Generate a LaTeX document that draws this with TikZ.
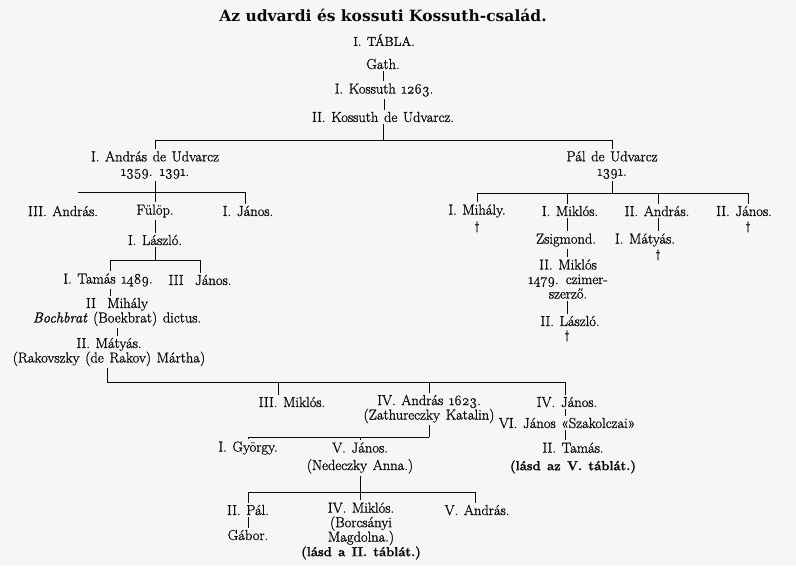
\documentclass[tikz,border=0pt]{standalone}
\usepackage{fontspec}
\setmainfont{Latin Modern Roman}[Numbers=OldStyle, WordSpace=1.3, FakeBold=1.2]
\newfontfamily\clar{DejaVu Serif}
\definecolor{paper}{RGB}{246,246,246}
\definecolor{ink}{RGB}{10,10,10}
\newcommand{\lasd}[1]{{\bfseries\fontsize{13}{13}\selectfont #1}}
\begin{document}
\begin{tikzpicture}[x=1pt,y=-1pt,
  p/.style={inner sep=2pt, align=center, text=ink, font=\fontsize{14.5}{14.5}\selectfont},
  dg/.style={inner sep=0pt, text=ink, font=\fontsize{12}{12}\selectfont},
  ln/.style={line width=0.7pt, draw=ink}]
\fill[paper] (0,0) rectangle (796,566);
\useasboundingbox (0,0) rectangle (796,566);

% header
\node[p, font=\clar\bfseries\fontsize{15.5}{16}\selectfont] (title) at (383,15) {Az udvardi és kossuti Kossuth-család.};
\node[p, font=\fontsize{13}{13}\selectfont] (tabla) at (384,40) {I. TÁBLA.};
\node[p] (gath) at (383,64) {Gath.};
\node[p] (kos1) at (384,90) {I. Kossuth 1263.};
\node[p] (kos2) at (383,117) {II. Kossuth de Udvarcz.};

% generation: András / Pál
\node[p] (andras1) at (155,165) {I. András de Udvarcz\\1359. 1391.};
\node[p] (pal) at (612,165) {Pál de Udvarcz\\1391.};

% left children
\node[p] (andras3) at (63,211) {III. András.};
\node[p] (fulop) at (155,211) {Fülöp.};
\node[p] (janos1) at (248,211) {I. János.};
\node[p] (laszlo1) at (155,240) {I. László.};
\node[p] (tamas1) at (108,280) {I. Tamás 1489.};
\node[p] (janos3) at (200,280) {III~ János.};
\node[p] (mihaly2) at (117,312) {II~ Mihály\\\textit{Bochbrat} (Boekbrat) dictus.};
\node[p] (matyas2) at (109,352) {II. Mátyás.\\(Rakovszky (de Rakov) Mártha)};

% right children
\node[p] (mihaly1) at (477,211) {I. Mihály.};
\node[p] (miklos1) at (570,211) {I. Miklós.};
\node[p] (andras2) at (657,211) {II. András.};
\node[p] (janos2) at (744,211) {II. János.};
\node[dg] (dag1) at (477,227) {\textdagger};
\node[dg] (dag2) at (748,227) {\textdagger};
\node[p] (zsig) at (566,240) {Zsigmond.};
\node[p] (matyas1) at (645,240) {I. Mátyás.};
\node[dg] (dag3) at (658,255) {\textdagger};
\node[p] (miklos2) at (568,279) {II. Miklós\\1479. czimer-\\szerző.};
\node[p] (laszlo2) at (570,321) {II. László.};
\node[dg] (dag4) at (567,336) {\textdagger};

% lower generations
\node[p] (miklos3) at (292,402) {III. Miklós.};
\node[p] (andras4) at (429,409) {IV. András 1623.\\(Zathureczky Katalin)};
\node[p] (janos4) at (567,402) {IV. János.};
\node[p] (janos6) at (567,423) {VI. János «Szakolczai»};
\node[p] (tamas2) at (573,458) {II. Tamás.\\[3pt]\lasd{(lásd az V. táblát.)}};
\node[p] (gyorgy) at (248,448) {I. György.};
\node[p] (janos5) at (360,458) {V. János.\\[3pt](Nedeczky Anna.)};
\node[p] (pal2) at (248,510) {II. Pál.};
\node[p] (gabor) at (248,535) {Gábor.};
\node[p] (miklos4) at (361,531) {IV. Miklós.\\(Borcsányi\\Magdolna.)\\\lasd{(lásd a II. táblát.)}};
\node[p] (andras5) at (477,510) {V. András.};

% bar coordinates
\coordinate (b1l) at (155,140); \coordinate (b1r) at (612,140);
\coordinate (b2l) at (78,192);  \coordinate (b2r) at (245,192);
\coordinate (b3l) at (110,260); \coordinate (b3r) at (200,260);
\coordinate (b4l) at (107,382); \coordinate (b4m) at (278,382); \coordinate (b4r) at (565,382);
\coordinate (b5l) at (248,437); \coordinate (b5r) at (429,437);
\coordinate (b6l) at (248,492); \coordinate (b6r) at (475,492);
\coordinate (b7l) at (477,193); \coordinate (b7b) at (567,193); \coordinate (b7c) at (658,193); \coordinate (b7r) at (748,193);

% connectors: top line
\draw[ln] (gath.south) -- (gath.south |- kos1.north);
\draw[ln] (kos1.south) -- (kos1.south |- kos2.north);
\draw[ln] (kos2.south) -- (kos2.south |- b1l);
\draw[ln] (b1l) -- (b1r);
\draw[ln] (b1l) -- (b1l |- andras1.north);
\draw[ln] (b1r) -- (b1r |- pal.north);

% András branch
\draw[ln] (andras1.south) -- (andras1.south |- fulop.north);
\draw[ln] (b2l) -- (b2r);
\draw[ln] (b2r) -- (b2r |- janos1.north);
\draw[ln] (fulop.south) -- (fulop.south |- laszlo1.north);
\draw[ln] (laszlo1.south) -- (laszlo1.south |- b3l);
\draw[ln] (b3l) -- (b3r);
\draw[ln] (b3l) -- (b3l |- tamas1.north);
\draw[ln] (b3r) -- (b3r |- janos3.north);
\draw[ln] (b3l |- tamas1.south) -- (b3l |- mihaly2.north);
\draw[ln] (mihaly2.south) -- (mihaly2.south |- matyas2.north);
\draw[ln] (b4l |- matyas2.south) -- (b4l);
\draw[ln] (b4l) -- (b4r);
\draw[ln] (b4m) -- (b4m |- miklos3.north);
\draw[ln] (andras4.north |- b4l) -- (andras4.north);
\draw[ln] (b4r) -- (b4r |- janos4.north);
\draw[ln] (b4r |- janos4.south) -- (b4r |- janos6.north);
\draw[ln] (b4r |- janos6.south) -- (b4r |- tamas2.north);
\draw[ln] (andras4.south) -- (andras4.south |- b5r);
\draw[ln] (b5l) -- (b5r);
\draw[ln] (b5l) -- (b5l |- gyorgy.north);
\draw[ln] (janos5.north |- b5l) -- (janos5.north);
\draw[ln] (janos5.south) -- (janos5.south |- miklos4.north);
\draw[ln] (b6l) -- (b6r);
\draw[ln] (b6l) -- (b6l |- pal2.north);
\draw[ln] (b6r) -- (b6r |- andras5.north);
\draw[ln] (pal2.south) -- (pal2.south |- gabor.north);

% Pál branch
\draw[ln] (pal.south) -- (pal.south |- b7l);
\draw[ln] (b7l) -- (b7r);
\draw[ln] (b7l) -- (b7l |- mihaly1.north);
\draw[ln] (b7b) -- (b7b |- miklos1.north);
\draw[ln] (b7c) -- (b7c |- andras2.north);
\draw[ln] (b7r) -- (b7r |- janos2.north);
\draw[ln] (b7b |- miklos1.south) -- (b7b |- zsig.north);
\draw[ln] (b7b |- zsig.south) -- (b7b |- miklos2.north);
\draw[ln] (b7b |- miklos2.south) -- (b7b |- laszlo2.north);
\draw[ln] (b7c |- andras2.south) -- (b7c |- matyas1.north);
\end{tikzpicture}
\end{document}
